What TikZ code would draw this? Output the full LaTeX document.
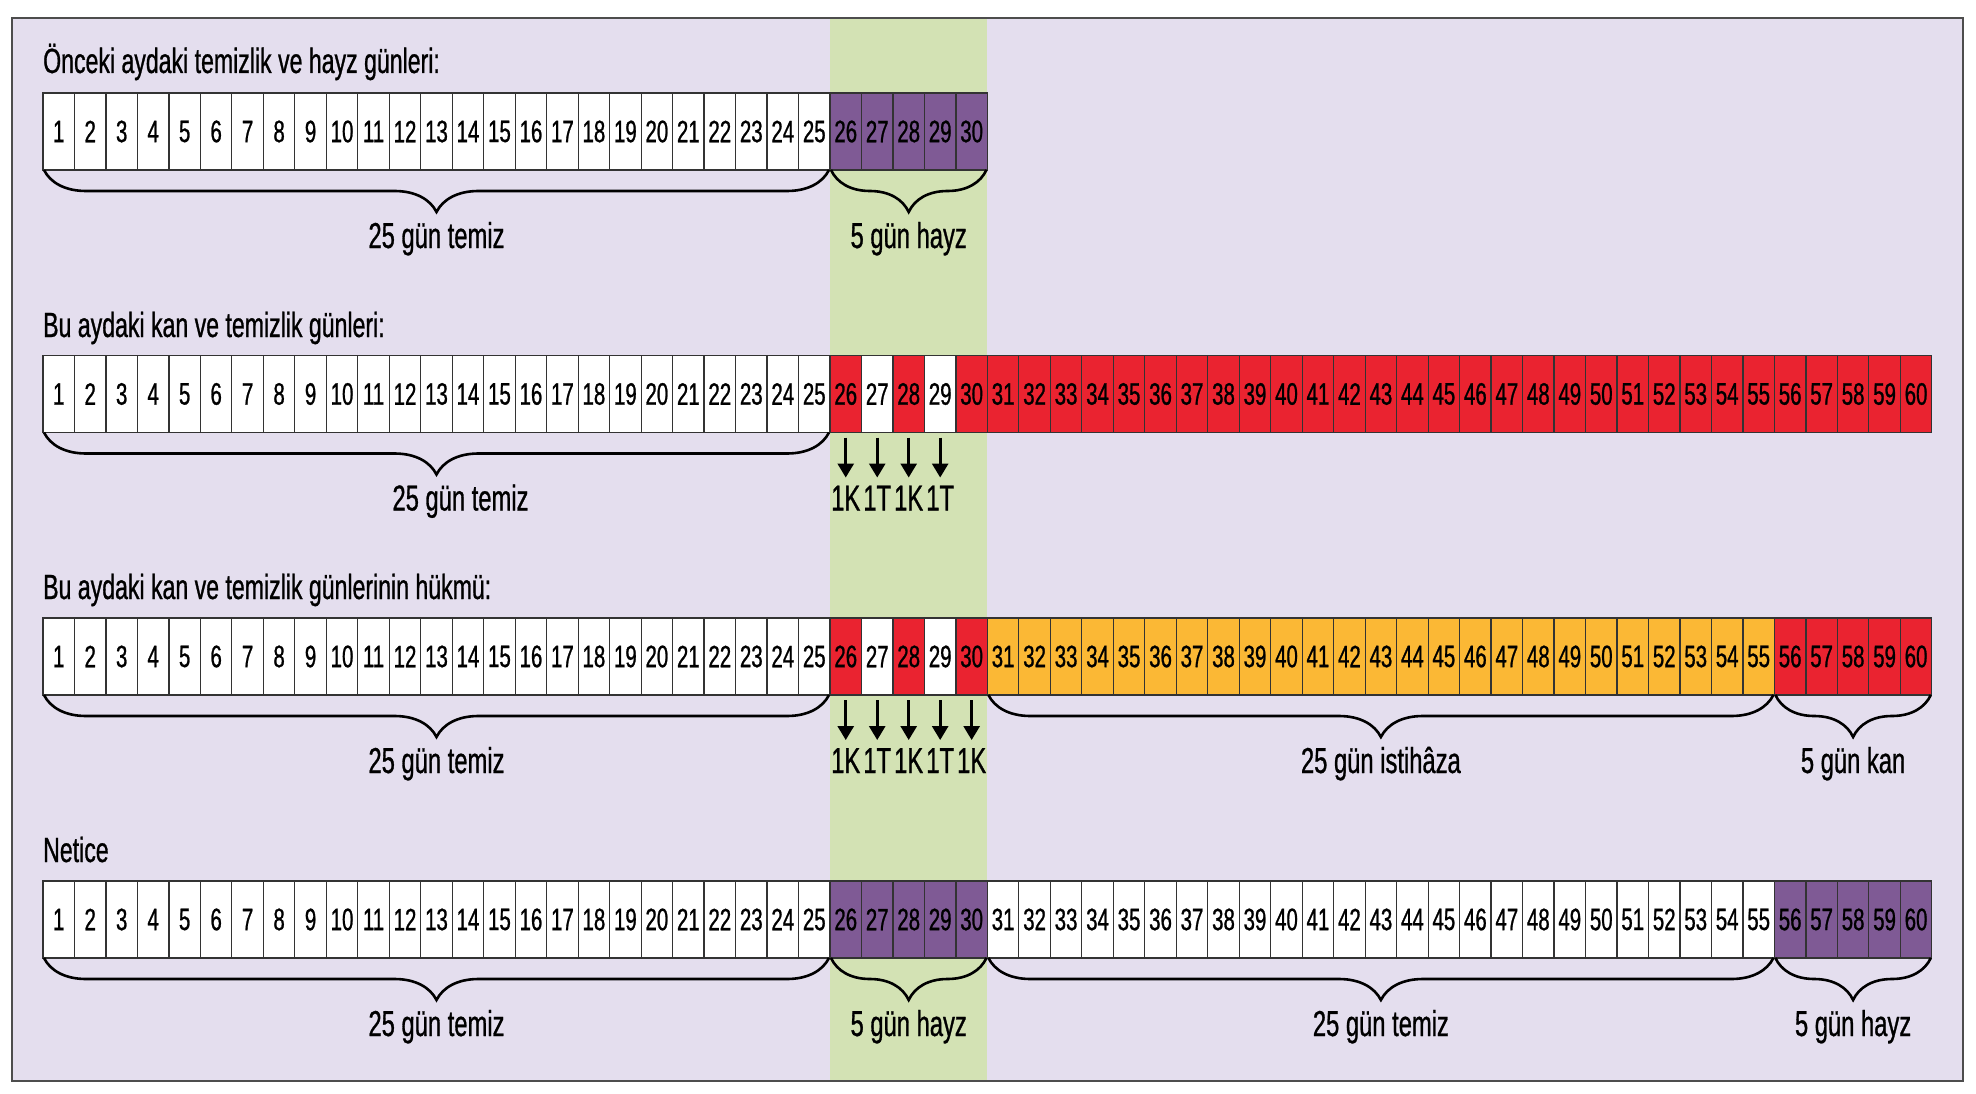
\documentclass[tikz,border=0pt]{standalone}
\usepackage{fontspec}
\setmainfont{Liberation Sans}[FakeStretch=0.66, FakeBold=0.8]
\usepackage{xcolor}
\usetikzlibrary{positioning}
\usetikzlibrary{arrows.meta}
\usetikzlibrary{decorations.pathreplacing}

\definecolor{panelbg}{HTML}{E4DEEE}
\definecolor{bandgreen}{HTML}{D3E2B4}
\definecolor{hayzcol}{HTML}{7F5A95}
\definecolor{kancol}{HTML}{EA2330}
\definecolor{istihazacol}{HTML}{FBB835}
\definecolor{cellline}{HTML}{333333}
\definecolor{frameline}{HTML}{4D4D4D}

\begin{document}
\begin{tikzpicture}[x=1pt, y=-1pt,
daycell/.style={rectangle, draw=cellline, line width=1.2pt, minimum width=31.48pt, minimum height=77pt, inner sep=0pt, outer sep=0pt, font=\fontsize{31}{31}\selectfont},
rowtitle/.style={anchor=base west, inner sep=0pt, font=\fontsize{35}{35}\selectfont},
bracetext/.style={anchor=base, inner sep=0pt, yshift=-78pt, font=\fontsize{36}{36}\selectfont},
daybrace/.style={decorate, decoration={brace, mirror, amplitude=42pt}, line width=2.6pt},
dayarrow/.style={-{Triangle[width=16pt,length=14pt]}, line width=2.8pt, shorten <=5pt, shorten >=8pt},
]
\useasboundingbox (0,0) rectangle (1976,1094);

%Background
\fill[panelbg] (12,18) rectangle (1963,1081);
\fill[bandgreen] (830,18) rectangle (987,1081);
\draw[frameline, line width=2pt] (12,18) rectangle (1963,1081);

%Titles
\node[rowtitle] (t1) at (43,73) {Önceki aydaki temizlik ve hayz günleri:};
\node[rowtitle] (t2) at (43,337) {Bu aydaki kan ve temizlik günleri:};
\node[rowtitle] (t3) at (43,599) {Bu aydaki kan ve temizlik günlerinin hükmü:};
\node[rowtitle] (t4) at (43,862) {Netice};

%Row 1
\foreach \d in {1,...,30}{
  \ifnum\d>25 \def\cc{hayzcol}\else\def\cc{white}\fi
  \node[daycell, fill=\cc] (a\d) at ({43+(\d-0.5)*31.48},131.5) {\d};
}
%Row 2
\foreach \d in {1,...,60}{
  \ifnum\d<26 \def\cc{white}\else\ifnum\d>29 \def\cc{kancol}\else
    \ifodd\d \def\cc{white}\else\def\cc{kancol}\fi\fi\fi
  \node[daycell, fill=\cc] (b\d) at ({43+(\d-0.5)*31.48},394) {\d};
}
%Row 3
\foreach \d in {1,...,60}{
  \ifnum\d<26 \def\cc{white}\else\ifnum\d>55 \def\cc{kancol}\else\ifnum\d>30 \def\cc{istihazacol}\else
    \ifodd\d \def\cc{white}\else\def\cc{kancol}\fi\fi\fi\fi
  \node[daycell, fill=\cc] (c\d) at ({43+(\d-0.5)*31.48},656.5) {\d};
}
%Row 4
\foreach \d in {1,...,60}{
  \ifnum\d<26 \def\cc{white}\else\ifnum\d>55 \def\cc{hayzcol}\else\ifnum\d>30 \def\cc{white}\else
    \def\cc{hayzcol}\fi\fi\fi
  \node[daycell, fill=\cc] (d\d) at ({43+(\d-0.5)*31.48},919.5) {\d};
}

%Braces
\draw[daybrace] ([xshift=1pt]a1.south west) -- node[bracetext, midway] {25 gün temiz} ([xshift=-1pt]a25.south east);
\draw[daybrace] ([xshift=1pt]a26.south west) -- node[bracetext, midway] {5 gün hayz} ([xshift=-1pt]a30.south east);
\draw[daybrace] ([xshift=1pt]b1.south west) -- node[bracetext, midway, xshift=24pt] {25 gün temiz} ([xshift=-1pt]b25.south east);
\draw[daybrace] ([xshift=1pt]c1.south west) -- node[bracetext, midway] {25 gün temiz} ([xshift=-1pt]c25.south east);
\draw[daybrace] ([xshift=1pt]c31.south west) -- node[bracetext, midway] {25 gün istihâza} ([xshift=-1pt]c55.south east);
\draw[daybrace] ([xshift=1pt]c56.south west) -- node[bracetext, midway] {5 gün kan} ([xshift=-1pt]c60.south east);
\draw[daybrace] ([xshift=1pt]d1.south west) -- node[bracetext, midway] {25 gün temiz} ([xshift=-1pt]d25.south east);
\draw[daybrace] ([xshift=1pt]d26.south west) -- node[bracetext, midway] {5 gün hayz} ([xshift=-1pt]d30.south east);
\draw[daybrace] ([xshift=1pt]d31.south west) -- node[bracetext, midway] {25 gün temiz} ([xshift=-1pt]d55.south east);
\draw[daybrace] ([xshift=1pt]d56.south west) -- node[bracetext, midway] {5 gün hayz} ([xshift=-1pt]d60.south east);

%Arrows
\foreach \d/\t in {26/1K,27/1T,28/1K,29/1T}{
  \node[bracetext] (kb\d) at (b\d.south) {\t};
  \draw[dayarrow] (b\d.south) -- (kb\d.north);
}
\foreach \d/\t in {26/1K,27/1T,28/1K,29/1T,30/1K}{
  \node[bracetext] (kc\d) at (c\d.south) {\t};
  \draw[dayarrow] (c\d.south) -- (kc\d.north);
}
\end{tikzpicture}
\end{document}
